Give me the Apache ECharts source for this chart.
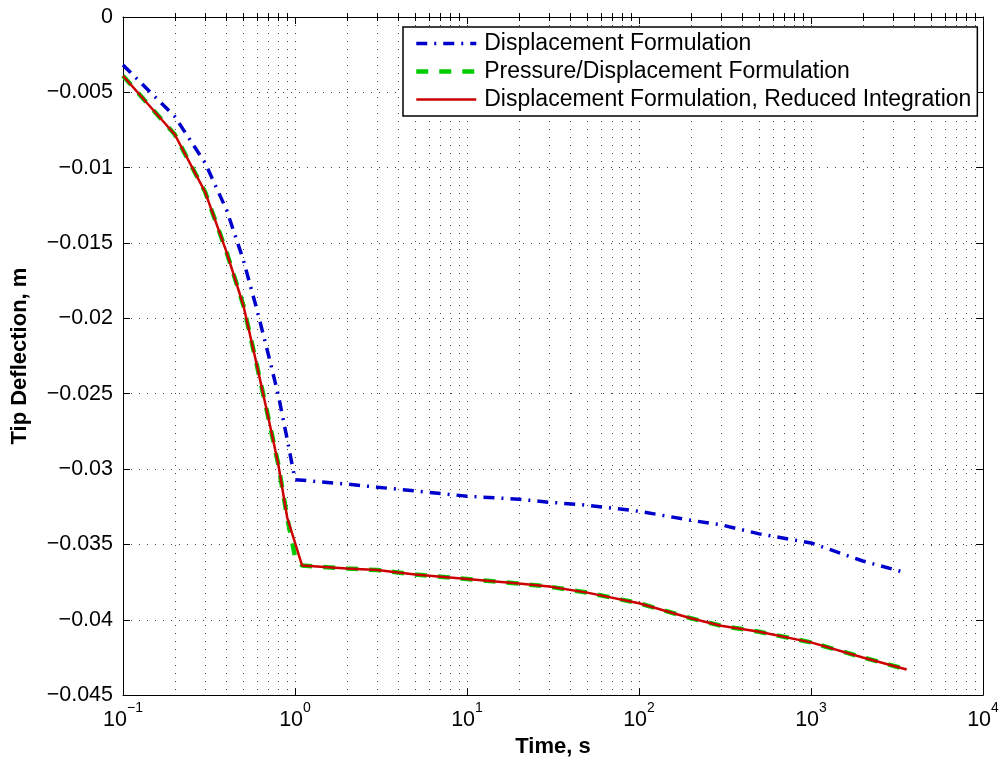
<!DOCTYPE html>
<html>
<head>
<meta charset="utf-8">
<script src="https://cdn.jsdelivr.net/npm/echarts@6/dist/echarts.min.js"></script>
<style>
html,body{margin:0;padding:0;background:#fff;}
#chart{width:1005px;height:763px;}
</style>
</head>
<body>
<div id="chart"></div>
<script>
// ---- data ----
const seriesNames = [
  'Displacement Formulation',
  'Pressure/Displacement Formulation',
  'Displacement Formulation, Reduced Integration'
];
const dispTimes = [0.1,0.2,0.3,0.4,0.5,0.6,0.7,0.8,0.9,1.0,2,3,5,10,20,30,50,100,200,300,500,1000,2000,3600];
const dispValues = [-0.00318,-0.00661,-0.00968,-0.0128,-0.0161,-0.0194,-0.0224,-0.0251,-0.0280,-0.0307,
  -0.0310,-0.0312,-0.03145,-0.0318,-0.0320,-0.0322,-0.0324,-0.0328,-0.0334,-0.0337,-0.0343,-0.0349,-0.0361,-0.0369];
const presTimes = [0.1,0.2,0.3,0.4,0.5,0.6,0.7,0.8,0.9,1.0,1.1,2,3,5,10,20,30,50,100,200,300,500,1000,2000,3600];
const presValues = [-0.0039,-0.0078,-0.0116,-0.0156,-0.0191,-0.0231,-0.0266,-0.0297,-0.0332,-0.0358,-0.0364,
  -0.0366,-0.0367,-0.0370,-0.0373,-0.0376,-0.0378,-0.0382,-0.0389,-0.0399,-0.0404,-0.0408,-0.0415,-0.0425,-0.0433];
const redTimes = [0.1,0.2,0.3,0.4,0.5,0.6,0.7,0.8,0.9,1.1,2,3,5,10,20,30,50,100,200,300,500,1000,2000,3600];
const redValues = [-0.0039,-0.0078,-0.0116,-0.0156,-0.0191,-0.0231,-0.0266,-0.0297,-0.0332,-0.0364,
  -0.0366,-0.0367,-0.0370,-0.0373,-0.0376,-0.0378,-0.0382,-0.0389,-0.0399,-0.0404,-0.0408,-0.0415,-0.0425,-0.0433];
const xMajorTicks = [0.1,1,10,100,1000,10000];
const yTicks = [0,-0.005,-0.01,-0.015,-0.02,-0.025,-0.03,-0.035,-0.04,-0.045];

function pairs(xs, ys){ return xs.map((x,i)=>[x, ys[i]]); }
// minor log ticks 2..9 in each decade
const xMinorTicks = [];
for (let d = 0; d < xMajorTicks.length - 1; d++) {
  for (let k = 2; k <= 9; k++) xMinorTicks.push(+(xMajorTicks[d] * k).toPrecision(3));
}

const FONT = 'Liberation Sans, Arial, Helvetica, sans-serif';
const gridDots = {show:true, lineStyle:{color:'#444', width:1, type:[1,7]}};
const styles = [
  {color:'#0000cc', width:3.5, type:[11,7,2,7]},
  {color:'#00cc00', width:4.5, type:[12,11]},
  {color:'#cc0000', width:2.5, type:'solid'}
];

const chart = echarts.init(document.getElementById('chart'), null, {renderer:'canvas'});
const option = {
  backgroundColor:'#fff',
  animation:false,
  grid:{left:123, right:22, top:17, bottom:67, containLabel:false},
  legend:{
    orient:'vertical', left:403, top:27,
    data: seriesNames.map((n,i)=>({name:n, lineStyle:{color:styles[i].color, width:styles[i].width, type:styles[i].type}})),
    backgroundColor:'#fff', borderColor:'#000', borderWidth:1.5, borderRadius:0,
    padding:[5,6,5,11], itemGap:5, itemWidth:60, itemHeight:16,
    itemStyle:{opacity:0},
    textStyle:{fontFamily:FONT, fontSize:23, color:'#000', lineHeight:23, padding:[0,0,0,3]},
    selectedMode:false
  },
  xAxis:[
    {
      type:'log', logBase:10, min:0.1, max:10000, position:'bottom',
      name:'Time, s', nameLocation:'middle', nameGap:37,
      nameTextStyle:{fontFamily:FONT, fontSize:22, fontWeight:'bold', color:'#000'},
      axisLine:{show:true, onZero:false, lineStyle:{color:'#000', width:1}},
      axisTick:{show:true, inside:true, length:7, lineStyle:{color:'#000'}, customValues: xMajorTicks},
      axisLabel:{
        show:true, margin:6, color:'#000', customValues: xMajorTicks,
        formatter:function(v){
          const e = Math.round(Math.log10(v));
          return '{b|10}{s|' + (e < 0 ? '\u2212' : '') + Math.abs(e) + '}';
        },
        rich:{
          b:{fontFamily:FONT, fontSize:21.5, color:'#000', lineHeight:30, verticalAlign:'bottom'},
          s:{fontFamily:FONT, fontSize:14, color:'#000', lineHeight:14, verticalAlign:'top'}
        }
      },
      splitLine: gridDots
    },
    {
      // minor log ticks + minor grid
      type:'log', logBase:10, min:0.1, max:10000, position:'bottom', gridIndex:0,
      axisLine:{show:false},
      axisTick:{show:true, inside:true, length:4, lineStyle:{color:'#000'}, customValues: xMinorTicks},
      axisLabel:{show:false, customValues: xMinorTicks},
      splitLine: gridDots
    },
    {
      type:'log', logBase:10, min:0.1, max:10000, position:'top',
      axisLine:{show:true, onZero:false, lineStyle:{color:'#000', width:1}},
      axisTick:{show:true, inside:true, length:7, lineStyle:{color:'#000'}, customValues: xMajorTicks},
      axisLabel:{show:false},
      splitLine:{show:false}
    },
    {
      type:'log', logBase:10, min:0.1, max:10000, position:'top',
      axisLine:{show:false},
      axisTick:{show:true, inside:true, length:4, lineStyle:{color:'#000'}, customValues: xMinorTicks},
      axisLabel:{show:false},
      splitLine:{show:false}
    }
  ],
  yAxis:[
    {
      type:'value', min:-0.045, max:0, interval:0.005, position:'left',
      name:'Tip Deflection, m', nameLocation:'middle', nameGap:92,
      nameTextStyle:{fontFamily:FONT, fontSize:22, fontWeight:'bold', color:'#000'},
      axisLine:{show:true, onZero:false, lineStyle:{color:'#000', width:1}},
      axisTick:{show:true, inside:true, length:7, lineStyle:{color:'#000'}},
      axisLabel:{
        show:true, margin:10, color:'#000', fontFamily:FONT, fontSize:21.5,
        customValues: yTicks,
        formatter:function(v){
          if (Math.abs(v) < 1e-12) return '0';
          return '\u2212' + parseFloat(Math.abs(v).toFixed(3)).toString();
        }
      },
      splitLine: gridDots
    },
    {
      type:'value', min:-0.045, max:0, interval:0.005, position:'right',
      axisLine:{show:true, onZero:false, lineStyle:{color:'#000', width:1}},
      axisTick:{show:true, inside:true, length:7, lineStyle:{color:'#000'}},
      axisLabel:{show:false},
      splitLine:{show:false}
    }
  ],
  series:[
    {
      name: seriesNames[0], type:'line', xAxisIndex:0, yAxisIndex:0,
      data: pairs(dispTimes, dispValues), showSymbol:false, symbol:'none',
      lineStyle: styles[0], itemStyle:{color:styles[0].color}, z:3
    },
    {
      name: seriesNames[1], type:'line', xAxisIndex:0, yAxisIndex:0,
      data: pairs(presTimes, presValues), showSymbol:false, symbol:'none',
      lineStyle: styles[1], itemStyle:{color:styles[1].color}, z:4
    },
    {
      name: seriesNames[2], type:'line', xAxisIndex:0, yAxisIndex:0,
      data: pairs(redTimes, redValues), showSymbol:false, symbol:'none',
      lineStyle: styles[2], itemStyle:{color:styles[2].color}, z:5
    }
  ]
};
chart.setOption(option);
</script>
</body>
</html>
